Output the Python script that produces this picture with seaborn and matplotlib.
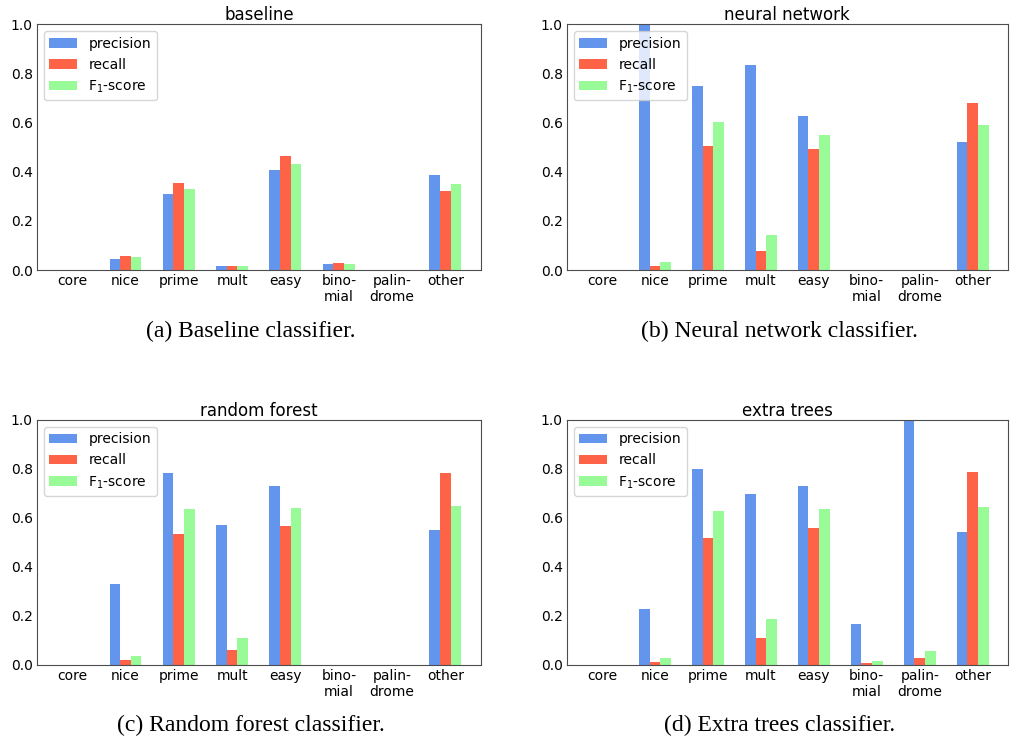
import pandas as pd
import seaborn as sns
import matplotlib.pyplot as plt


# DATI
categories = ["core", "nice", "prime", "mult", "easy", "binomial", "palindrome", "other"]
tick_labels = ["core", "nice", "prime", "mult", "easy", "bino-\nmial", "palin-\ndrome", "other"]
metrics = ["precision", "recall", "F$_1$-score"]

baseline_precision = [0.0, 0.045, 0.309, 0.016, 0.407, 0.024, 0.0, 0.387]
baseline_recall = [0.0, 0.057, 0.354, 0.016, 0.464, 0.028, 0.0, 0.322]
baseline_f1 = [0.0, 0.053, 0.330, 0.016, 0.431, 0.024, 0.0, 0.350]

nn_precision = [0.0, 1.0, 0.749, 0.834, 0.627, 0.0, 0.0, 0.521]
nn_recall = [0.0, 0.016, 0.505, 0.077, 0.493, 0.0, 0.0, 0.680]
nn_f1 = [0.0, 0.033, 0.602, 0.142, 0.550, 0.0, 0.0, 0.590]

rf_precision = [0.0, 0.332, 0.784, 0.572, 0.731, 0.0, 0.0, 0.552]
rf_recall = [0.0, 0.022, 0.535, 0.062, 0.568, 0.0, 0.0, 0.784]
rf_f1 = [0.0, 0.038, 0.637, 0.111, 0.641, 0.0, 0.0, 0.649]

et_precision = [0.0, 0.230, 0.800, 0.698, 0.731, 0.168, 1.0, 0.543]
et_recall = [0.0, 0.014, 0.519, 0.111, 0.560, 0.010, 0.030, 0.788]
et_f1 = [0.0, 0.030, 0.629, 0.189, 0.637, 0.018, 0.057, 0.645]

titles = ["baseline", "neural network", "random forest", "extra trees"]
captions = ["(a) Baseline classifier.", "(b) Neural network classifier.",
            "(c) Random forest classifier.", "(d) Extra trees classifier."]
results = [
    (baseline_precision, baseline_recall, baseline_f1),
    (nn_precision, nn_recall, nn_f1),
    (rf_precision, rf_recall, rf_f1),
    (et_precision, et_recall, et_f1),
]
colors = ["cornflowerblue", "tomato", "palegreen"]


sns.set_style("ticks")
plt.rcParams['font.family'] = ['DejaVu Sans']

fig = plt.figure(figsize=(10.13, 7.43), dpi=100)
positions = [
    [0.0365, 0.6366, 0.438, 0.331],
    [0.5597, 0.6366, 0.435, 0.331],
    [0.0365, 0.105, 0.438, 0.330],
    [0.5597, 0.105, 0.435, 0.330],
]
caption_y = [0.554, 0.023]

for i, (title, caption, res) in enumerate(zip(titles, captions, results)):
    rows = []
    for metric, values in zip(metrics, res):
        for cat, v in zip(categories, values):
            rows.append({"category": cat, "metric": metric, "score": v})
    df = pd.DataFrame(rows)

    ax = fig.add_axes(positions[i])
    sns.barplot(data=df, x="category", y="score", hue="metric", order=categories,
                hue_order=metrics, palette=colors, saturation=1, width=0.6,
                errorbar=None, linewidth=0, ax=ax)
    ax.set_xlim(-0.66, 7.66)
    ax.set_ylim(0, 1.0)
    ax.set_yticks([0.0, 0.2, 0.4, 0.6, 0.8, 1.0])
    ax.set_xticks(range(len(categories)))
    ax.set_xticklabels(tick_labels, fontsize=10)
    ax.tick_params(axis='both', length=0, labelsize=10, labelcolor='black', pad=3)
    ax.set_xlabel("")
    ax.set_ylabel("")
    ax.set_title(title, fontsize=12, pad=1.5, color='black')
    for s in ax.spines.values():
        s.set_visible(True)
        s.set_color('0.3')
    sns.move_legend(ax, "upper left", title=None, frameon=True, fontsize=10,
                    labelcolor='black')

    cx = positions[i][0] + positions[i][2] / 2 - 0.008
    fig.text(cx, caption_y[i // 2], caption, ha="center", va="center",
             fontsize=17, family="Liberation Serif", color='black')

plt.savefig("out.png", dpi=100)
plt.close()
